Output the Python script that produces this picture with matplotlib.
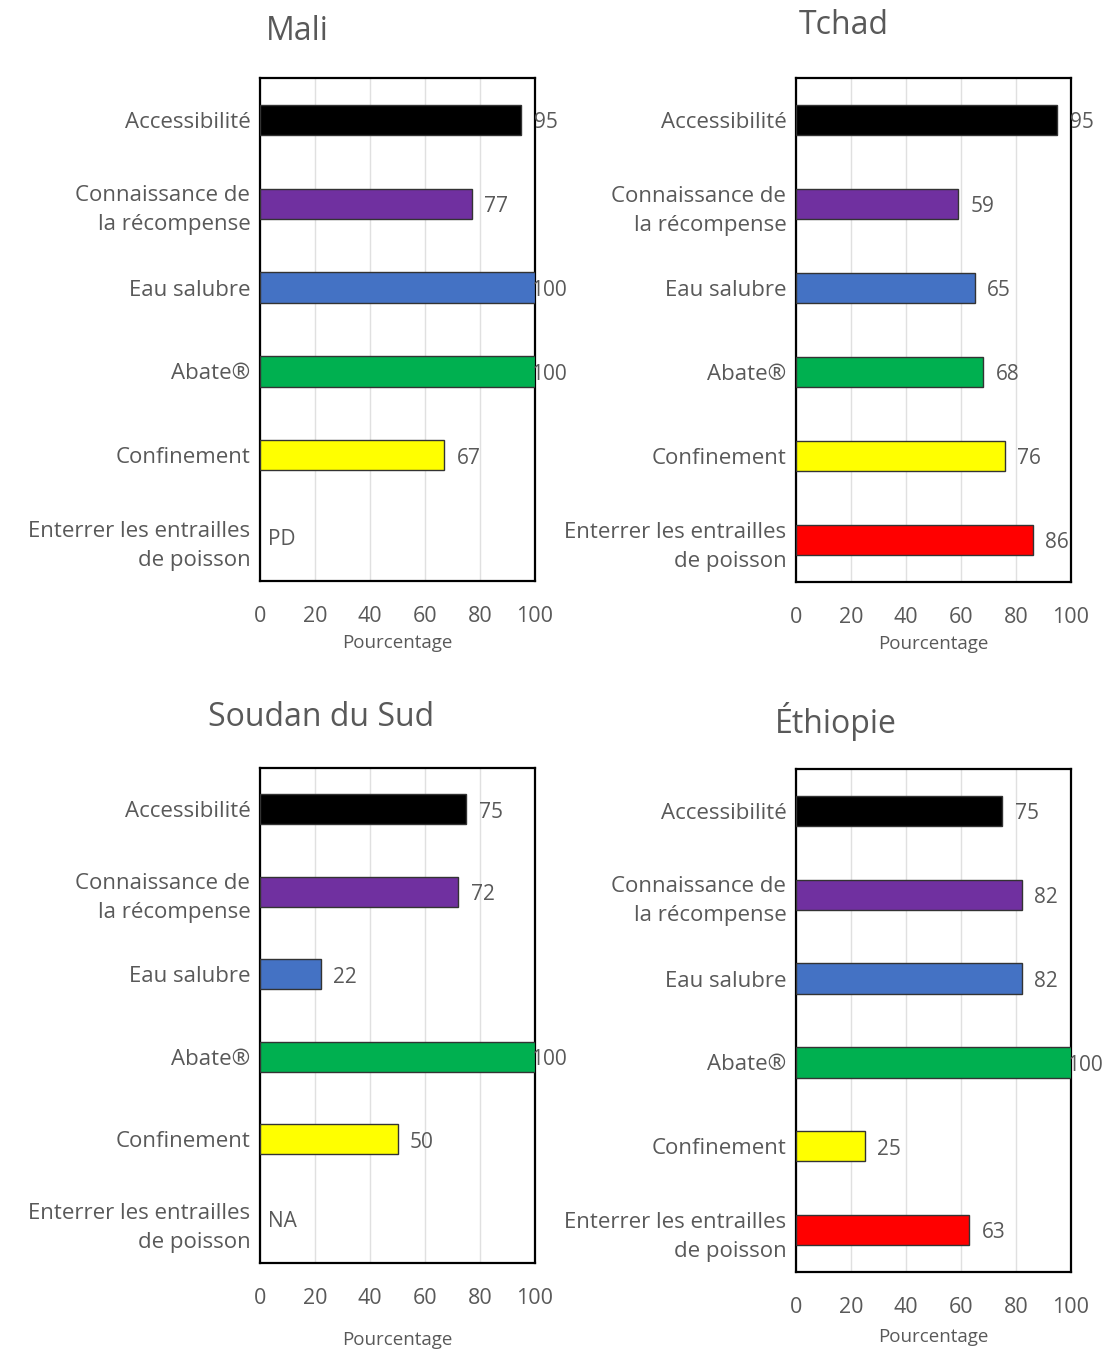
import matplotlib.pyplot as plt

# data
categories = ["Accessibilité", "Connaissance de\nla récompense", "Eau salubre",
              "Abate®", "Confinement", "Enterrer les entrailles\nde poisson"]
bar_colors = ["#000000", "#7030A0", "#4472C4", "#00B050", "#FFFF00", "#FF0000"]
countries = ["Mali", "Tchad", "Soudan du Sud", "Éthiopie"]
mali = [95, 77, 100, 100, 67, None]
tchad = [95, 59, 65, 68, 76, 86]
soudan = [75, 72, 22, 100, 50, None]
ethiopie = [75, 82, 82, 100, 25, 63]
missing_labels = ["PD", None, "NA", None]
x_ticks = [0, 20, 40, 60, 80, 100]

W, H = 1115, 1349
text_color = "#595959"
plt.rcParams["font.family"] = ["Open Sans", "DejaVu Sans"]

# pixel boxes: left, top, right, bottom
boxes = [(260, 78, 535, 581), (796, 78, 1071, 582),
         (260, 768, 535, 1263), (796, 769, 1071, 1272)]
title_pos = [(297, 32), (844, 25), (321, 718), (836, 722)]
xlabel_pad = [5, 5, 16, 7]

fig = plt.figure(figsize=(W / 100, H / 100), dpi=100)

for k, values in enumerate([mali, tchad, soudan, ethiopie]):
    l, t, r, b = boxes[k]
    ax = fig.add_axes([l / W, 1 - b / H, (r - l) / W, (b - t) / H])
    ypos = list(range(len(categories)))
    for i, v in enumerate(values):
        if v is None:
            continue
        ax.barh(i, v, height=0.36, color=bar_colors[i], edgecolor="#333333",
                linewidth=1.0, zorder=3)
        # labels of full bars sit on the frame, as in the source chart
        dx = -3 if v >= 100 else 9
        ax.annotate(str(v), (v, i), xytext=(dx, -2), textcoords="offset points",
                    ha="left", va="center", fontsize=15, color=text_color,
                    annotation_clip=False, zorder=4)
    if missing_labels[k]:
        ax.text(3, len(categories) - 1, missing_labels[k], ha="left",
                va="center", fontsize=15, color=text_color)
    ax.set_xlim(0, 100)
    ax.set_ylim(len(categories) - 0.5, -0.5)
    ax.set_yticks(ypos)
    ax.set_yticklabels(categories, fontsize=16, color=text_color,
                       linespacing=1.5)
    ax.set_xticks(x_ticks)
    ax.set_xticklabels([str(x) for x in x_ticks], fontsize=15.5,
                       color=text_color)
    ax.tick_params(axis="both", length=0)
    ax.tick_params(axis="x", pad=18)
    ax.tick_params(axis="y", pad=7)
    ax.grid(axis="x", color="#E0E0E0", linewidth=1.0, zorder=0)
    for s in ax.spines.values():
        s.set_linewidth(1.6)
        s.set_color("#000000")
    ax.set_xlabel("Pourcentage", fontsize=13.5, color=text_color,
                  labelpad=xlabel_pad[k])
    tx, ty = title_pos[k]
    fig.text(tx / W, 1 - ty / H, countries[k], ha="center", va="center",
             fontsize=23, color=text_color)

fig.savefig("out.png", dpi=100)
